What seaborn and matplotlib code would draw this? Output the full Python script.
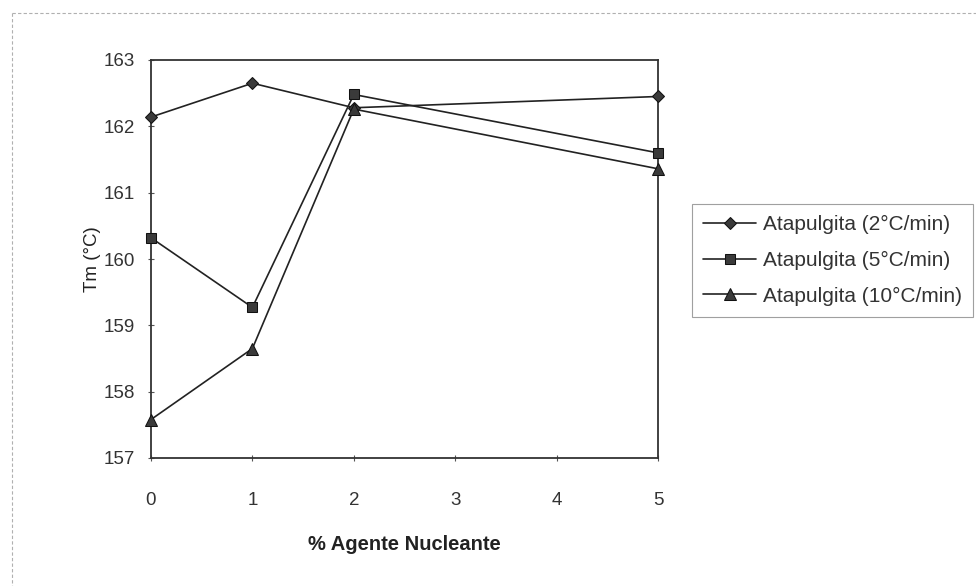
import matplotlib
matplotlib.use("Agg")
import matplotlib.pyplot as plt
import seaborn as sns
import pandas as pd
from matplotlib.lines import Line2D

# data
agente = [0, 1, 2, 5]
tm_2c = [162.14, 162.65, 162.28, 162.45]
tm_5c = [160.32, 159.27, 162.48, 161.60]
tm_10c = [157.58, 158.65, 162.26, 161.36]
series_names = ["Atapulgita (2\u00b0C/min)", "Atapulgita (5\u00b0C/min)", "Atapulgita (10\u00b0C/min)"]
y_ticks = [157, 158, 159, 160, 161, 162, 163]
x_ticks = [0, 1, 2, 3, 4, 5]

sns.set_style("white")
plt.rcParams["font.family"] = ["Liberation Sans", "DejaVu Sans"]

fig = plt.figure(figsize=(9.76, 5.86), dpi=100)
ax = fig.add_axes([151 / 976, 1 - 458 / 586, (658 - 151) / 976, (458 - 60) / 586])

markers = ["D", "s", "^"]
msizes = [6.5, 7.5, 8.5]
for vals, name, m, ms in zip([tm_2c, tm_5c, tm_10c], series_names, markers, msizes):
    df = pd.DataFrame({"x": agente, "y": vals})
    sns.lineplot(data=df, x="x", y="y", ax=ax, color="#222222", linewidth=1.2,
                 marker=m, markersize=ms, markerfacecolor="#3a3a3a",
                 markeredgecolor="#111111", label=name, clip_on=False, zorder=5)

ax.set_xlim(0, 5)
ax.set_ylim(157, 163)
ax.set_xticks(x_ticks)
ax.set_yticks(y_ticks)
ax.tick_params(axis="both", direction="inout", length=5, width=0.8, color="#555555",
               labelsize=13.5, labelcolor="#333333", bottom=True, left=True)
ax.tick_params(axis="x", pad=22)
ax.tick_params(axis="y", pad=9)
for sp in ax.spines.values():
    sp.set_color("#333333")
    sp.set_linewidth(1.3)

ax.set_xlabel("% Agente Nucleante", fontsize=14.5, fontweight="bold", color="#222222", labelpad=19)
ax.set_ylabel("Tm (\u00b0C)", fontsize=13.5, color="#222222", labelpad=2)

leg = ax.legend(loc="lower left", bbox_to_anchor=(692 / 976, 1 - 317 / 586),
                bbox_transform=fig.transFigure, borderaxespad=0, fontsize=15,
                frameon=True, fancybox=False, handlelength=2.5, labelspacing=0.8,
                borderpad=0.55, handletextpad=0.35)
leg.get_frame().set_edgecolor("#888888")
leg.get_frame().set_linewidth(0.8)
for t in leg.get_texts():
    t.set_color("#333333")

# faint scanned page frame
fig.add_artist(Line2D([12 / 976, 1], [1 - 13 / 586, 1 - 13 / 586], transform=fig.transFigure,
                      color="#b0b0b0", lw=0.8, ls=(0, (3, 2))))
fig.add_artist(Line2D([12 / 976, 12 / 976], [1 - 13 / 586, 0], transform=fig.transFigure,
                      color="#b0b0b0", lw=0.8, ls=(0, (3, 2))))

fig.savefig("out.png", dpi=100)
plt.close(fig)
